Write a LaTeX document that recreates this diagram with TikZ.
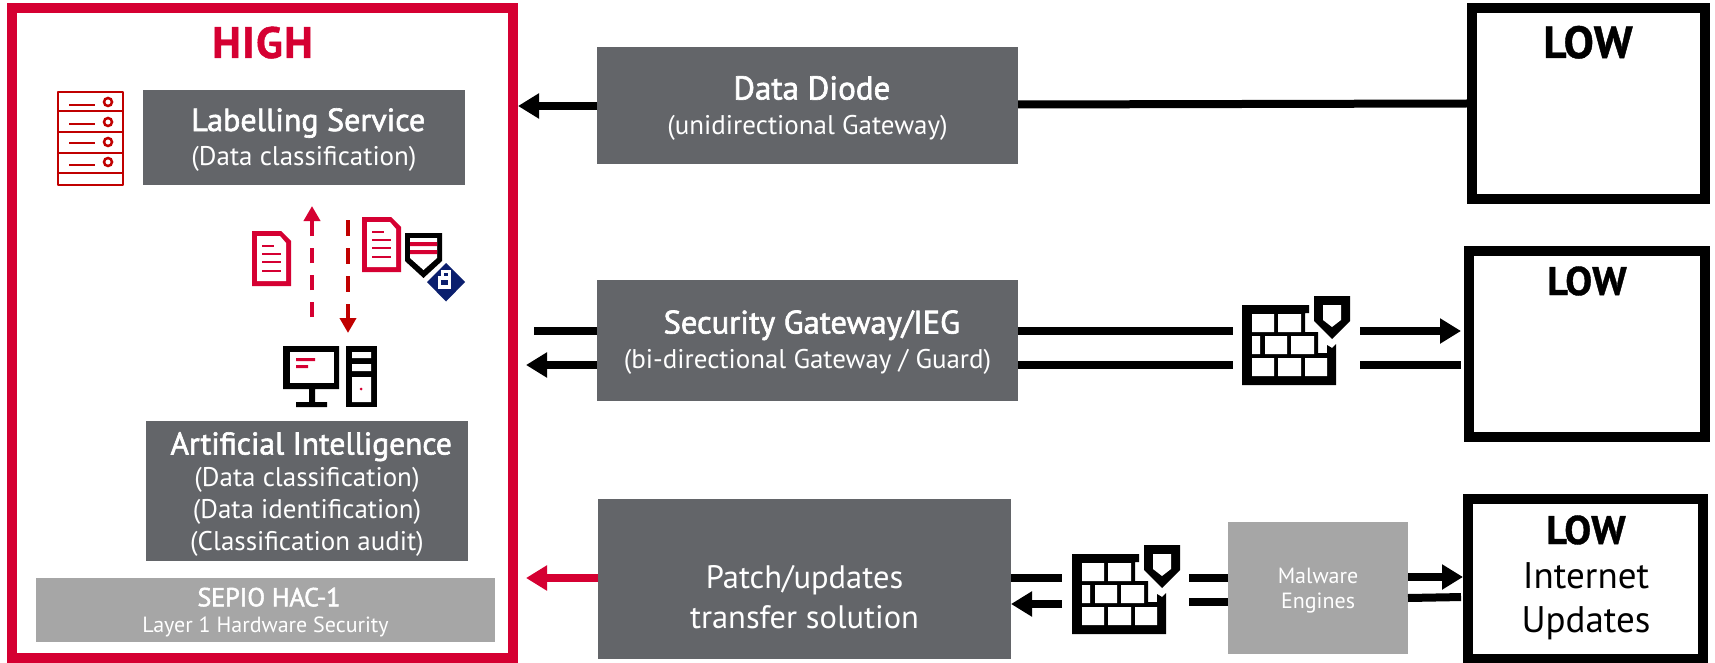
\documentclass[tikz,border=0pt]{standalone}
\usepackage{fontspec}
\setmainfont{PT Sans}
\newfontfamily\medf{PT Sans}[FakeBold=2.0]
\newfontfamily\boldf{PT Sans Bold}[LetterSpace=3,FakeBold=1.0]
\usetikzlibrary{arrows.meta,calc}
\definecolor{hired}{HTML}{D50032}
\definecolor{darkred}{HTML}{C00000}
\definecolor{dgray}{HTML}{636569}
\definecolor{lgray}{HTML}{A6A6A6}
\definecolor{navy}{HTML}{0B1F6E}
\tikzset{
  box/.style={fill=dgray,text=white,align=center,inner sep=0pt,outer sep=0pt},
  lbox/.style={fill=lgray,text=white,align=center,inner sep=0pt,outer sep=0pt},
  frame/.style={draw=black,line width=10pt,fill=white,inner sep=0pt,outer sep=5pt},
  ghost/.style={inner sep=0pt,outer sep=0pt},
  title/.style={inner sep=0pt,outer sep=0pt,anchor=base,align=center},
  wire/.style={line width=8pt,draw=black},
  tip/.style={-{Triangle[length=21pt,width=24pt]}},
  smalltip/.style={-{Triangle[length=15pt,width=16pt]}},
  dashup/.style={line width=4pt,draw=hired,dash pattern=on 15pt off 12pt,smalltip},
  dashdown/.style={line width=4pt,draw=darkred,dash pattern=on 16pt off 12pt,smalltip},
}
\newcommand{\fs}[2]{\fontsize{#1}{#2}\selectfont}
\newcommand{\pad}[1]{\rule{0pt}{#1pt}}
\newcommand{\fwall}[2]{%
  \begin{scope}[shift={(#1,#2)}]
    \fill[black] (0,0)--(67,0)--(67,8)--(63,8)--(63,27)--(76,27)--(76,48)--(85,48)--(85,40)--(90,43)--(94,39)--(94,80)--(0,80)--cycle;
    \fill[white] (10,9) rectangle (32,27) (36,9) rectangle (59,27)
                 (10,31) rectangle (18,49) (23,31) rectangle (45,49) (49,31) rectangle (72,49)
                 (10,53) rectangle (32,71) (36,53) rectangle (59,71) (63,53) rectangle (85,71);
    \fill[black] (72,-9)--(108,-9)--(108,16)--(90,34)--(72,16)--cycle;
    \fill[white] (81,0)--(99,0)--(99,15)--(90,22)--(81,15)--cycle;
  \end{scope}}
\newcommand{\docicon}[2]{%
  \begin{scope}[shift={(#1,#2)}]
    \fill[hired] (0,0)--(29,0)--(39,10)--(39,55)--(0,55)--cycle;
    \fill[white] (5,5)--(28,5)--(34,12)--(34,50)--(5,50)--cycle;
    \draw[hired,line width=2.5pt] (10,15)--(22,15) (10,23)--(29,23) (10,31)--(29,31) (10,40)--(29,40);
  \end{scope}}
\begin{document}
\begin{tikzpicture}[x=1pt,y=-1pt]
\useasboundingbox (0,0) rectangle (1715,663);
\fill[white] (0,0) rectangle (1715,663);

% frames
\node[frame,draw=hired,minimum width=501pt,minimum height=650pt] (high) at (262.5,333) {};
\node[frame,minimum width=233pt,minimum height=191pt] (lowa) at (1588.5,103.5) {};
\node[frame,minimum width=236pt,minimum height=186pt] (lowb) at (1587,344) {};
\node[frame,minimum width=235pt,minimum height=160pt] (lowc) at (1585.5,579) {};

\node[title,text=hired,font=\boldf\fs{44}{44}] (hight) at (262.5,58) {HIGH};
\node[title,font=\boldf\fs{45}{45}] (lowat) at (1588,58) {LOW};
\node[title,font=\boldf\fs{40}{40}] (lowbt) at (1587,295) {LOW};
\node[title,font=\boldf\fs{40}{40}] (lowct) at (1586,544) {LOW};
\node[title,font=\fs{37}{37}] (lowcs) at (1586,588) {Internet};
\node[title,font=\fs{37}{37}] (lowcu) at (1586,632) {Updates};

% grey boxes
\node[box,font=\fs{27}{34},minimum width=322pt,minimum height=95pt] (label) at (304,137.5)
  {\pad{27}{\medf\fs{32}{34} Labelling Service}\\(Data classification)};
\node[box,font=\fs{27}{32},minimum width=322pt,minimum height=140pt] (ai) at (307,491)
  {\pad{29}{\medf\fs{31.5}{33} Artificial Intelligence}\\(Data classification)\\(Data identification)\\(Classification audit)};
\node[lbox,font=\fs{22}{26},minimum width=459pt,minimum height=64pt] (sepio) at (265.5,610)
  {\pad{23}{\medf\fs{26}{26} SEPIO HAC-1}\\Layer 1 Hardware Security};
\node[box,font=\fs{27}{35},minimum width=421pt,minimum height=117pt] (diode) at (807.5,105.5)
  {\pad{29}{\medf\fs{33}{35} Data Diode}\\(unidirectional Gateway)};
\node[box,font=\fs{27}{35},minimum width=421pt,minimum height=121pt] (sec) at (807.5,340.5)
  {\pad{27}{\medf\fs{32.5}{35} Security Gateway/IEG}\\(bi-directional Gateway / Guard)};
\node[box,font=\fs{32.5}{40},minimum width=413pt,minimum height=160pt] (patch) at (804.5,579)
  {\pad{59}Patch/updates\\transfer solution};
\node[lbox,font=\fs{22}{25},minimum width=180pt,minimum height=132pt] (malw) at (1318,588)
  {\pad{21}Malware\\Engines};

% free ends and icon anchors
\coordinate (seca) at (534,331);
\coordinate (secb) at (526,365);
\coordinate (patb) at (526,578);
\coordinate (upa) at (312,317);
\coordinate (upb) at (312,206);
\coordinate (dna) at (348,220);
\coordinate (dnb) at (348,333);
\node[ghost,minimum width=127pt,minimum height=90pt] (fwa) at (1296.5,348) {};
\node[ghost,minimum width=127pt,minimum height=90pt] (fwb) at (1125.5,591) {};

% connectors
\draw[wire] (lowa.west) -- ([yshift=1pt]diode.east);
\draw[wire,tip] ([yshift=-0.5pt]diode.west) -- ([yshift=227pt]high.east);
\draw[wire] ([yshift=9.5pt]sec.west) -- (seca);
\draw[wire,tip] ([yshift=-24.5pt]sec.west) -- (secb);
\draw[wire] ([yshift=9.5pt]sec.east) -- ([yshift=17pt]fwa.west);
\draw[wire] ([yshift=-24.5pt]sec.east) -- ([yshift=-17pt]fwa.west);
\draw[wire,tip,shorten >=3pt] ([yshift=17pt]fwa.east) -- ([yshift=13pt]lowb.west);
\draw[wire,shorten >=3pt] ([yshift=-17pt]fwa.east) -- ([yshift=-21pt]lowb.west);
\draw[wire,draw=hired,tip] ([yshift=1pt]patch.west) -- (patb);
\draw[wire] ([yshift=1pt]patch.east) -- ([yshift=13pt]fwb.west);
\draw[wire,tip] ([yshift=-13pt]fwb.west) -- ([yshift=-25pt]patch.east);
\draw[wire] ([yshift=13pt]fwb.east) -- ([yshift=10pt]malw.west);
\draw[wire] ([yshift=-10.5pt]fwb.east) -- ([yshift=-13.5pt]malw.west);
\draw[wire,tip] ([yshift=11pt]malw.east) -- ([yshift=2pt]lowc.west);
\draw[wire,shorten >=2pt] ([yshift=-10pt]malw.east) -- ([yshift=-18pt]lowc.west);
\draw[dashup] (upa) -- (upb);
\draw[dashdown] (dna) -- (dnb);

% firewalls
\fwall{1242}{305}
\fwall{1072}{554}

% server icon
\draw[darkred,line width=2pt,line join=round] (58,92) rectangle (123,185) (58,111.5)--(123,111.5) (58,132.5)--(123,132.5) (58,153)--(123,153) (58,173)--(123,173);
\draw[darkred,line width=2pt] (69,105)--(95,105) (69,124)--(95,124) (69,143)--(95,143) (69,165)--(95,165);
\draw[darkred,line width=2.5pt] (108,102) circle (4) (108,122) circle (4) (108,142) circle (4) (108,162) circle (4);

% documents
\docicon{252}{231}
\docicon{362}{217}

% shield and lock
\fill[black] (405,233)--(442,233)--(442,261)--(423.5,278)--(405,261)--cycle;
\fill[white] (410,238)--(437,238)--(437,258)--(423.5,270)--(410,258)--cycle;
\fill[hired] (410,242) rectangle (437,246) (410,250) rectangle (437,254);
\fill[navy] (446,263)--(465,282)--(446,301.5)--(427,282)--cycle;
\draw[white,line width=2.5pt] (442.5,278)--(442.5,271.5)--(449.5,271.5)--(449.5,278);
\fill[white] (437.5,276) rectangle (451,288.5);
\fill[navy] (441,280) rectangle (448,285);

% computer
\fill[black] (283,346) rectangle (339,389) (309,389) rectangle (315,403) (296,402) rectangle (327,407);
\fill[white] (290,352) rectangle (334,383);
\fill[hired] (296,358) rectangle (315,361) (296,365) rectangle (308,368);
\fill[black] (346,346) rectangle (377,407);
\fill[white] (352,352) rectangle (371,358) (352,364) rectangle (371,371) (352,377) rectangle (371,402);
\fill[hired] (361,389) circle (1.5);
\end{tikzpicture}
\end{document}
